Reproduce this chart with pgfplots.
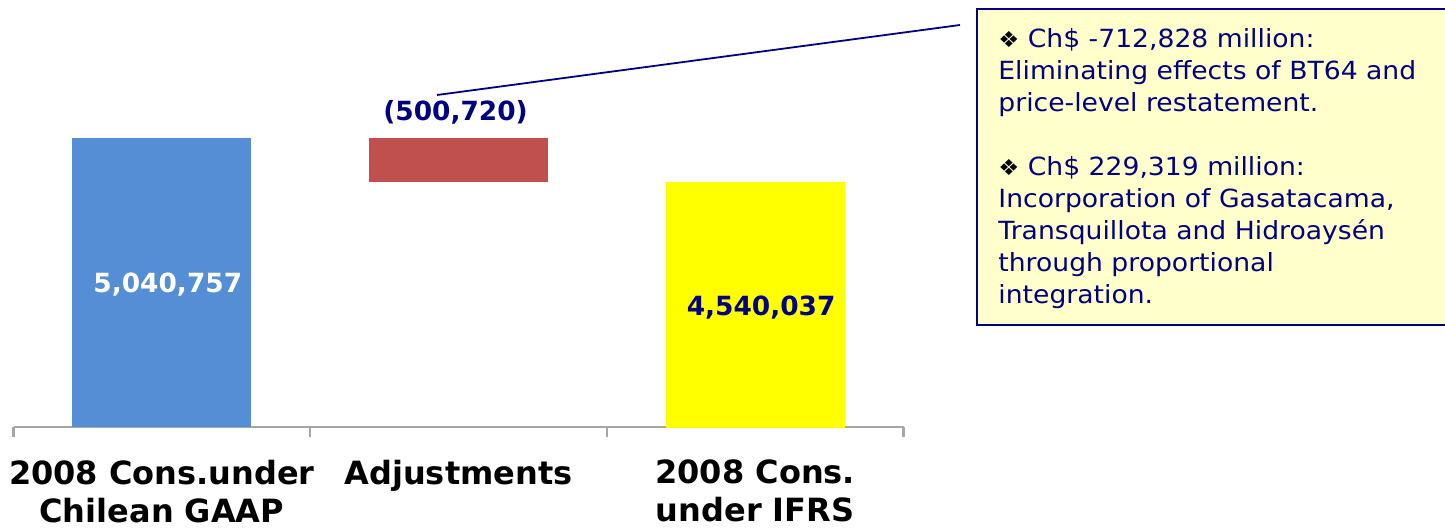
\documentclass[border=0pt]{standalone}
\usepackage{pgfplots}
\pgfplotsset{compat=1.18}
\usepackage{fontspec}
\setmainfont{DejaVu Sans}
\newfontfamily\boxfont[FakeStretch=1.065]{DejaVu Sans}
\definecolor{barblue}{HTML}{558ED5}
\definecolor{barred}{HTML}{C0504D}
\definecolor{baryellow}{HTML}{FFFF00}
\definecolor{navy}{HTML}{000080}
\definecolor{boxfill}{HTML}{FFFFCC}
\definecolor{axisgray}{HTML}{A6A6A6}
\begin{document}
\begin{tikzpicture}[x=1bp,y=1bp]
\begin{axis}[
  at={(0,0)}, anchor=south west,
  scale only axis, width=445bp, height=213.5bp,
  xmin=-0.5, xmax=2.5, ymin=1750000, ymax=6612000,
  ybar stacked, bar width=0.603,
  axis y line=none, axis x line=bottom,
  axis line style={-, draw=axisgray, line width=1.2bp},
  xtick={-0.5,0.5,1.5,2.5}, xticklabels={},
  tick align=outside, major tick length=5bp,
  x tick style={draw=axisgray, line width=1.2bp},
  extra x ticks={0,1,2},
  extra x tick labels={2008 Cons.under\\Chilean GAAP, Adjustments, 2008 Cons.\\under IFRS},
  extra x tick style={major tick length=0pt,
    tick label style={align=center, font=\fontsize{16bp}{19bp}\selectfont\bfseries, text=black, yshift=-13bp}},
  clip=true,
]
\addplot[fill=barblue, draw=none] coordinates {(0,5040757) (1,0) (2,0)};
\addplot[fill=none, draw=none] coordinates {(0,0) (1,4540037) (2,0)};
\addplot[fill=barred, draw=none] coordinates {(0,0) (1,500720) (2,0)};
\addplot[fill=baryellow, draw=none] coordinates {(0,0) (1,0) (2,4540037)};
\coordinate (lblA) at (axis cs:0.02,3275858);
\coordinate (lblB) at (axis cs:0.99,5234422);
\coordinate (lblC) at (axis cs:2.02,3025344);
\end{axis}
\node[anchor=base, text=white, font=\fontsize{13.2bp}{16bp}\selectfont\bfseries] at (lblA) {5,040,757};
\node[anchor=base, text=navy, font=\fontsize{13.2bp}{16bp}\selectfont\bfseries] at (lblB) {(500,720)};
\node[anchor=base, text=navy, font=\fontsize{13.2bp}{16bp}\selectfont\bfseries] at (lblC) {4,540,037};
\draw[navy, line width=0.9bp] (211.75,166) -- (473.25,201);
\draw[navy, line width=1.3bp, fill=boxfill] (481.75,209) rectangle (720,51);
\node[anchor=north west, inner sep=0pt, align=left, text=navy,
      font=\boxfont\fontsize{12.5bp}{16bp}\selectfont] at (492.25,199.5)
  {{\color{black}\fontsize{11bp}{16bp}\selectfont ❖} Ch\$ -712,828 million:\\
   Eliminating effects of BT64 and\\
   price-level restatement.\\[16bp]
   {\color{black}\fontsize{11bp}{16bp}\selectfont ❖} Ch\$ 229,319 million:\\
   Incorporation of Gasatacama,\\
   Transquillota and Hidroaysén\\
   through proportional\\
   integration.};
\pgfresetboundingbox
\path[use as bounding box] (-6.75,-50.5) rectangle (715.75,213.5);
\end{tikzpicture}
\end{document}
